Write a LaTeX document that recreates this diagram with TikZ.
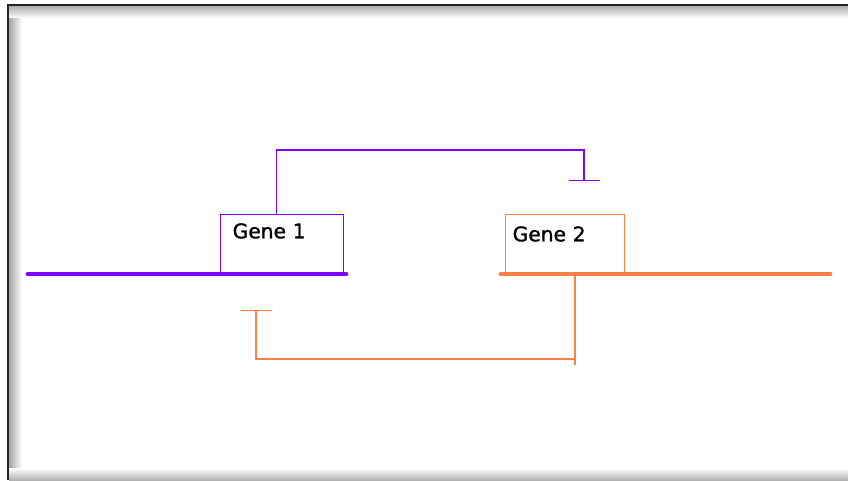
\documentclass[tikz,border=0pt]{standalone}
\usepackage{fontspec}
\setmainfont{DejaVu Sans}
\newfontfamily\genefont[FakeBold=1.3]{DejaVu Sans}
\usepackage{tikz}
\usetikzlibrary{math,arrows.meta,calc}
\definecolor{genepurple}{RGB}{128,0,255}
\definecolor{geneorange}{RGB}{255,128,64}
\tikzset{
  dna/.style={line width=2.8pt, line cap=round},
  genebox/.style={draw, line width=0.8pt, fill=white, inner xsep=0.24cm, inner ysep=0pt,
    align=left, font=\genefont\fontsize{11.5}{13}\selectfont, anchor=south west},
  repress/.style={line width=0.8pt, -{Bar[width=0.62cm, line width=0.8pt]}}
}

\begin{document}
\begin{tikzpicture}[x=0.02cm, y=0.02cm]
      \tikzmath{\ydna = 206; \ytop = 330; \ylow = 121;}
      \useasboundingbox (0,0) rectangle (848,480);
      \shade[left color=black!35, right color=white] (9,0) rectangle (22,475);
      \shade[top color=black!35, bottom color=white] (9,462) rectangle (848,475);
      \shade[bottom color=black!30, top color=white] (9,0) rectangle (848,12);
      \draw[line width=1.4pt, black!85] (8,0) -- (8,475) -- (848,475);
      \node[genebox, draw=genepurple, text width=1.98cm, text height=0.48cm, text depth=0.7cm] (gene1) at (220,\ydna) {Gene 1};
      \node[genebox, draw=geneorange, text width=2.1cm, inner xsep=0.14cm, text height=0.54cm, text depth=0.64cm] (gene2) at (505,\ydna) {Gene 2};
      \draw[dna, genepurple] (28,\ydna) -- (346,\ydna);
      \draw[dna, geneorange] (501,\ydna) -- (830,\ydna);
      \coordinate (g2out) at (575,\ydna);
      \coordinate (g1in) at (256,170);
      \coordinate (g2in) at (584,299);
      \draw[repress, genepurple] ([xshift=-5.5*0.02cm]gene1.north) |- (584,\ytop) -- (g2in);
      \draw[line width=0.8pt, geneorange] (g2out) -- ++(0,-91);
      \draw[repress, geneorange] (575,\ylow) -| (g1in);
\end{tikzpicture}
\end{document}
